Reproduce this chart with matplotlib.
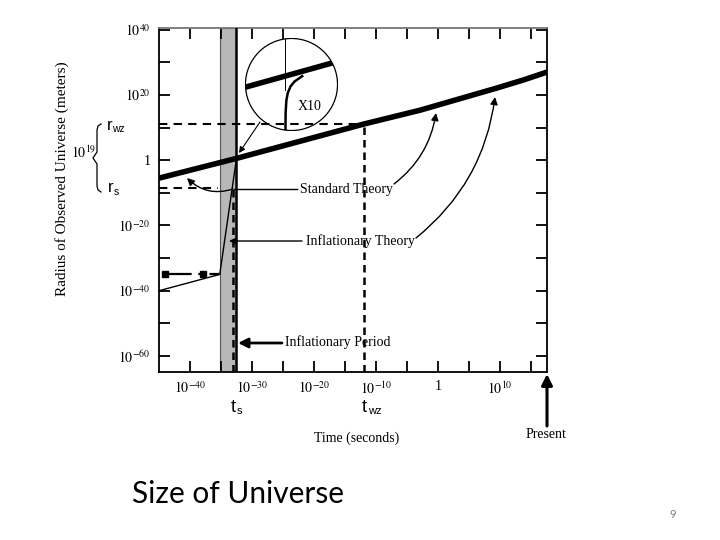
import numpy as np
import matplotlib.pyplot as plt
from matplotlib.patches import FancyArrowPatch, Circle
from matplotlib.lines import Line2D

plt.rcParams['font.family'] = ['Liberation Serif', 'DejaVu Serif']
plt.rcParams['mathtext.fontset'] = 'stix'

W, H = 720, 540

# log10 values (time in s, radius in m)
std_logt = [-45, -32.4, -11.9, -2.9, 9.5, 14.0, 17.6]
std_logr = [-5.5, 0.6, 11.1, 15.3, 22.1, 24.7, 27.0]
inf_logt = [-45, -35.2, -32.5]
inf_logr = [-40.0, -35.0, 0.5]
pre_logt = [-44, -37.9, -35.3]
pre_logr = [-35, -35, -35]
band_logt = [-35.1, -32.6]
ts_logt = -32.6
ts_dash_logt = -33.1
twz_logt = -11.9
rwz_logr = 11.1
rs_logr = -8.6

xtick_exp = list(range(-40, 16, 5))
xtick_lab = ['$10^{-40}$', '', '$10^{-30}$', '', '$10^{-20}$', '', '$10^{-10}$', '',
             '1', '', '$10^{10}$', '']
ytick_exp = list(range(-60, 41, 10))
ytick_lab = ['$10^{-60}$', '', '$10^{-40}$', '', '$10^{-20}$', '', '1', '',
             '$10^{20}$', '', '$10^{40}$']

# zoomed view inside the circle (inset axes units)
inset_x = [0.435, 0.437, 0.445, 0.46, 0.49, 0.53, 0.58, 0.615]
inset_y = [0.0, 0.2, 0.33, 0.41, 0.48, 0.53, 0.565, 0.59]
inset_std_x = [0.0, 1.0]
inset_std_y = [0.47, 0.749]


def P(x, y):
    return (x / W, 1 - y / H)


def e(v):
    return 10.0 ** np.asarray(v, dtype=float)


fig = plt.figure(figsize=(7.2, 5.4), dpi=100)
ax = fig.add_axes([159 / W, 1 - 372 / H, (547 - 159) / W, (372 - 28) / H])
ax.set_xscale('log')
ax.set_yscale('log')
ax.set_xlim(e(-45), e(17.6))
ax.set_ylim(e(-64.9), e(40.5))

ax.axvspan(e(band_logt[0]), e(band_logt[1]), facecolor='#b8b8b8', edgecolor='#555555', lw=0.8, zorder=1)
ax.axvline(e(ts_logt), color='k', lw=1.8, zorder=3)
ax.plot([e(ts_dash_logt)] * 2, [e(-64.9), e(rs_logr)], color='k', lw=1.8, dashes=(3, 2), zorder=3)
ax.plot([e(-45), e(band_logt[0]) * 0.5], [e(rs_logr)] * 2, color='k', lw=1.5, dashes=(4, 3), zorder=2)
ax.plot([e(-45), e(twz_logt)], [e(rwz_logr)] * 2, color='k', lw=1.5, dashes=(4, 3), zorder=2)
ax.plot([e(twz_logt)] * 2, [e(-64.9), e(rwz_logr)], color='k', lw=1.8, dashes=(3, 2), zorder=2)

ax.plot(e(std_logt), e(std_logr), color='k', lw=4, solid_capstyle='butt', zorder=4)
ax.plot(e(inf_logt), e(inf_logr), color='k', lw=1.0, zorder=4)
ax.plot(e(pre_logt), e(pre_logr), color='k', lw=1.6, ls=(0, (12, 3, 2, 3)),
        marker='s', ms=4, markevery=[0, 1], zorder=4)

ax.set_xticks(e(xtick_exp))
ax.set_xticklabels(xtick_lab)
ax.set_yticks(e(ytick_exp))
ax.set_yticklabels(ytick_lab)
ax.minorticks_off()
ax.tick_params(direction='in', length=8, width=1.3, top=True, right=True, labelsize=10, pad=6)
for s in ax.spines.values():
    s.set_linewidth(1.3)
ax.spines['top'].set_color('#777777')

# inset circle
iax = fig.add_axes([245 / W, 1 - 131 / H, 93 / W, 93 / H])
iax.set_xlim(0, 1)
iax.set_ylim(0, 1)
iax.axis('off')
circ = Circle((0.5, 0.5), 0.495, transform=iax.transAxes, fill=False, lw=0.9, ec='k')
iax.add_patch(circ)
l1, = iax.plot(inset_std_x, inset_std_y, color='k', lw=4, solid_capstyle='butt')
l2, = iax.plot([0.43, 0.43], [0.44, 1.0], color='k', lw=0.7)
l3, = iax.plot(inset_x, inset_y, color='k', lw=1.8)
for ln in (l1, l2, l3):
    ln.set_clip_path(circ)
iax.text(0.69, 0.26, 'X10', fontsize=10, ha='center', va='center')

# annotations
def arrow(a, b, rad=0.0, lw=1.0, hl=6, hw=3):
    fig.add_artist(FancyArrowPatch(P(*a), P(*b), transform=fig.transFigure,
                                   connectionstyle=f'arc3,rad={rad}',
                                   arrowstyle=f'-|>,head_length={hl / 1.39},head_width={hw / 1.39}',
                                   color='k', lw=lw, shrinkA=0, shrinkB=0))

def line(pts, lw=1.0):
    xs = [P(*p)[0] for p in pts]
    ys = [P(*p)[1] for p in pts]
    fig.add_artist(Line2D(xs, ys, transform=fig.transFigure, color='k', lw=lw))

def sub_label(x, y, main, sub, size=12):
    fig.text(*P(x, y), main, fontsize=size, family='Liberation Sans', ha='left', va='center')
    fig.text(*P(x + size * 0.45, y + 4), sub, fontsize=size * 0.62, family='Liberation Sans',
             ha='left', va='center')

line([(234, 189), (297, 189)], lw=1.0)
arrow((233, 189), (187, 178), rad=-0.3, lw=1.0)
arrow((394, 184), (436, 113), rad=0.2, lw=1.0)
fig.text(*P(300, 189), 'Standard Theory', fontsize=10, ha='left', va='center')

arrow((302, 241), (229, 241), lw=1.0)
arrow((416, 238), (495, 97), rad=0.2, lw=1.0)
fig.text(*P(306, 241), 'Inflationary Theory', fontsize=10, ha='left', va='center')

arrow((282, 343), (238, 343), lw=2.0, hl=8, hw=4)
fig.text(*P(285, 342), 'Inflationary Period', fontsize=10, ha='left', va='center')

arrow((260, 122), (239, 153), lw=0.8, hl=5, hw=2.5)

arrow((547, 426), (547, 374), lw=2.2, hl=9, hw=4.5)
fig.text(*P(546, 435), 'Present', fontsize=10, ha='center', va='center')

fig.text(*P(357, 438), 'Time (seconds)', fontsize=10, ha='center', va='center')
fig.text(*P(62, 179), 'Radius of Observed Universe (meters)', fontsize=11,
         rotation=90, ha='center', va='center')

sub_label(231, 407, 't', 's', size=13)
sub_label(362, 407, 't', 'wz', size=13)
sub_label(107, 125, 'r', 'wz', size=12)
sub_label(108, 188, 'r', 's', size=12)
fig.text(*P(84, 153), '$10^{19}$', fontsize=10, ha='center', va='center')
line([(101, 124), (98, 126), (97, 130), (97, 152), (93, 158), (97, 164),
      (97, 186), (98, 190), (101, 192)], lw=0.9)

fig.text(*P(132, 494), 'Size of Universe', fontsize=21.5, family='Lato', ha='left', va='center')
fig.text(*P(673, 514), '9', fontsize=8, family='Lato', color='#777777', ha='center', va='center')

fig.savefig('out.png', dpi=100)
